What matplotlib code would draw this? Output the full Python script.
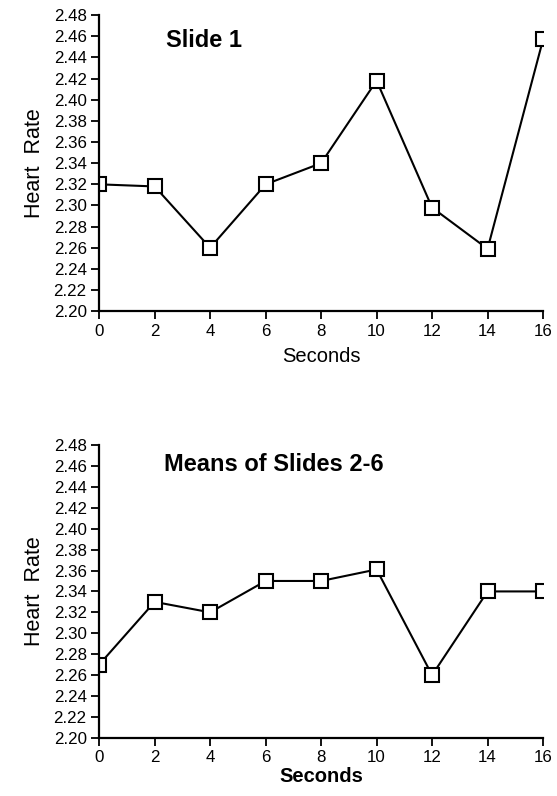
import matplotlib
matplotlib.use("Agg")
import matplotlib.pyplot as plt
import numpy as np

plt.rcParams['font.family'] = ['Liberation Sans', 'DejaVu Sans']

seconds = [0, 2, 4, 6, 8, 10, 12, 14, 16]
slide1 = [2.32, 2.318, 2.26, 2.32, 2.34, 2.418, 2.298, 2.259, 2.457]
means_2_6 = [2.27, 2.33, 2.32, 2.35, 2.35, 2.361, 2.26, 2.34, 2.34]
titles = ["Slide 1", "Means of Slides 2-6"]
yticks = np.arange(2.20, 2.481, 0.02)
xticks = seconds

fig = plt.figure(figsize=(5.57, 7.96), dpi=100)
ax1 = fig.add_axes([0.178, 0.609, 0.797, 0.372])
ax2 = fig.add_axes([0.178, 0.073, 0.797, 0.368])

for ax, vals in zip([ax1, ax2], [slide1, means_2_6]):
    ax.plot(seconds, vals, color='black', lw=1.5, marker='s', ms=10.5,
            mfc='white', mec='black', mew=1.5)
    ax.set_xlim(0, 16)
    ax.set_ylim(2.20, 2.48)
    ax.set_xticks(xticks)
    ax.set_yticks(yticks)
    ax.set_yticklabels(["%.2f" % v for v in yticks])
    ax.spines['top'].set_visible(False)
    ax.spines['right'].set_visible(False)
    ax.spines['left'].set_linewidth(1.6)
    ax.spines['bottom'].set_linewidth(1.6)
    ax.tick_params(direction='out', length=6, width=1.3, labelsize=12.2, pad=3)
    ax.tick_params(axis='x', pad=3)
    ax.set_ylabel("Heart  Rate", fontsize=15.5, labelpad=6)

# titles inside the plotting area
ax1.text(0.15, 0.915, titles[0], transform=ax1.transAxes, ha='left', va='center',
         fontsize=17, fontweight='bold')
ax2.text(0.146, 0.935, titles[1], transform=ax2.transAxes, ha='left', va='center',
         fontsize=17, fontweight='bold')

ax1.set_xlabel("Seconds", fontsize=14.5, labelpad=6)
ax2.set_xlabel("Seconds", fontsize=14.5, fontweight='bold', labelpad=1)

fig.savefig("out.png", dpi=100)
